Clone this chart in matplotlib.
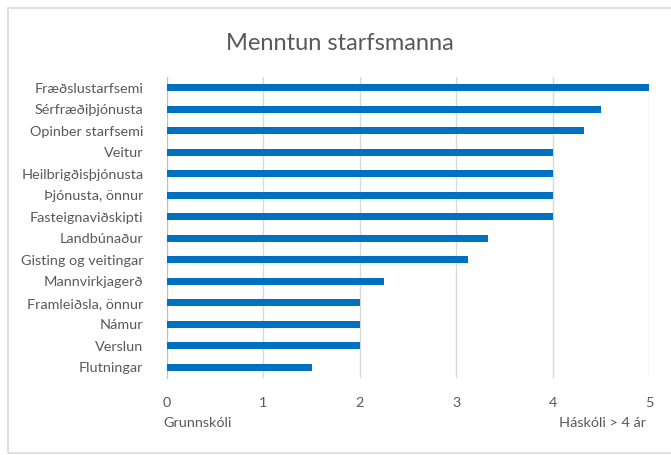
import matplotlib.pyplot as plt
from matplotlib.patches import Rectangle
from matplotlib.transforms import blended_transform_factory, offset_copy

plt.rcParams['font.family'] = ['Lato', 'DejaVu Sans']

# data, top to bottom as in the chart
greinar = ['Fræðslustarfsemi', 'Sérfræðiþjónusta', 'Opinber starfsemi', 'Veitur',
           'Heilbrigðisþjónusta', 'Þjónusta, önnur', 'Fasteignaviðskipti', 'Landbúnaður',
           'Gisting og veitingar', 'Mannvirkjagerð', 'Framleiðsla, önnur', 'Námur',
           'Verslun', 'Flutningar']
menntun = [5.0, 4.5, 4.33, 4.0, 4.0, 4.0, 4.0, 3.33, 3.12, 2.25, 2.0, 2.0, 2.0, 1.5]
xticks = [0, 1, 2, 3, 4, 5]

textcol = '#595959'
gridcol = '#D9D9D9'
barcol = '#0070C0'
fs = 10.4

fig = plt.figure(figsize=(6.71, 4.55), dpi=100)
fig.patches.append(Rectangle((8/671, 2/455), 1.0, 445/455, transform=fig.transFigure,
                             fill=False, edgecolor=gridcol, linewidth=1.2))

ax = fig.add_axes([167/671, 1 - 378/455, (649-167)/671, (378-77)/455])
ypos = range(len(greinar))
ax.barh(ypos, menntun, height=0.33, color=barcol, zorder=3)
ax.set_yticks(list(ypos))
ax.set_yticklabels(greinar)
ax.set_ylim(len(greinar) - 0.5, -0.5)
ax.set_xlim(0, 5)
ax.set_xticks(xticks)
ax.set_xticklabels([str(t) for t in xticks])
ax.tick_params(axis='both', length=0, colors=textcol, labelsize=fs)
ax.tick_params(axis='y', pad=17)
ax.tick_params(axis='x', pad=14)
ax.grid(axis='x', color=gridcol, linewidth=1, zorder=0)
for s in ['top', 'right', 'bottom']:
    ax.spines[s].set_visible(False)
ax.spines['left'].set_color('#BFBFBF')

fig.text(340/671, 1 - 43/455, 'Menntun starfsmanna', fontsize=17, color=textcol,
         ha='center', va='center')

trans = blended_transform_factory(ax.transData, ax.transAxes)
ax.text(0, -0.148, 'Grunnskóli', transform=offset_copy(trans, fig=fig, x=-4, y=0, units='dots'),
        ha='left', va='center', color=textcol, fontsize=fs)
ax.text(5, -0.148, 'Háskóli > 4 ár', transform=offset_copy(trans, fig=fig, x=-3, y=0, units='dots'),
        ha='right', va='center', color=textcol, fontsize=fs)

fig.savefig('out.png', dpi=100)
